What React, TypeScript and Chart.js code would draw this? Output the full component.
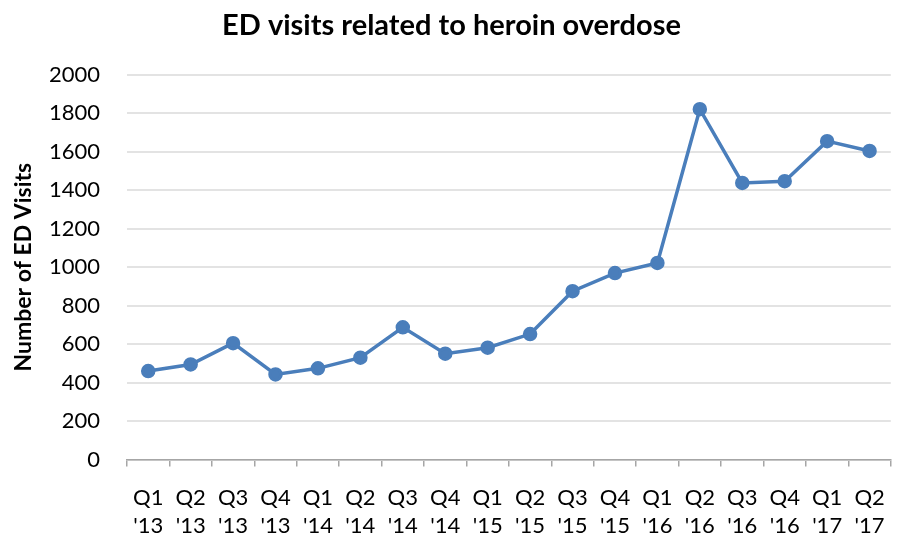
import React, { useEffect, useRef } from "react";
import { Chart, registerables } from "chart.js";

Chart.register(...registerables);

const quarters = ["Q1", "Q2", "Q3", "Q4", "Q1", "Q2", "Q3", "Q4", "Q1", "Q2", "Q3", "Q4", "Q1", "Q2", "Q3", "Q4", "Q1", "Q2"];
const years = ["'13", "'13", "'13", "'13", "'14", "'14", "'14", "'14", "'15", "'15", "'15", "'15", "'16", "'16", "'16", "'16", "'17", "'17"];
const edVisits = [460, 494, 605, 442, 474, 529, 687, 550, 581, 652, 875, 969, 1022, 1821, 1438, 1447, 1655, 1604];
const titleText = "ED visits related to heroin overdose";
const yTitle = "Number of ED Visits";

export default function App() {
  const ref = useRef<HTMLCanvasElement | null>(null);
  useEffect(() => {
    document.body.style.margin = "0";
    const labels = quarters.map((q, i) => [q, years[i]]);
    const chart = new Chart(ref.current!, {
      type: "line",
      data: {
        labels,
        datasets: [
          {
            data: edVisits,
            borderColor: "#4a7ebb",
            backgroundColor: "#4a7ebb",
            borderWidth: 3.5,
            pointRadius: 5.5,
            pointHoverRadius: 5.5,
            pointBackgroundColor: "#4a7ebb",
            pointBorderColor: "#4a7ebb",
            tension: 0,
          },
        ],
      },
      options: {
        animation: false,
        responsive: false,
        devicePixelRatio: 1,
        layout: { padding: { left: 0, right: 0, top: 0, bottom: 0 } },
        plugins: {
          legend: { display: false },
          tooltip: { enabled: false },
          title: {
            display: true,
            text: titleText,
            color: "#000",
            font: { family: "Lato", size: 29, weight: "bold", lineHeight: 1.2 },
            padding: { top: 8, bottom: 32 },
          },
        },
        scales: {
          x: {
            offset: true,
            grid: {
              display: true,
              offset: true,
              drawOnChartArea: false,
              drawTicks: true,
              tickLength: 7,
              color: "#a6a6a6",
              lineWidth: 1.5,
            },
            border: { display: true, color: "#a6a6a6", width: 1.5 },
            ticks: {
              color: "#000",
              font: { family: "Lato", size: 22, lineHeight: 1.25 },
              padding: 18,
              maxRotation: 0,
              autoSkip: false,
            },
            afterFit: (s: any) => {
              s.height = 80.5;
            },
          },
          y: {
            min: 0,
            max: 2000,
            ticks: {
              stepSize: 200,
              color: "#000",
              font: { family: "Lato", size: 22 },
              padding: 27,
              callback: (v: any) => String(v),
            },
            grid: { color: "#e3e3e3", lineWidth: 2, drawTicks: false },
            border: { display: false },
            title: {
              display: true,
              text: yTitle,
              color: "#000",
              font: { family: "Lato", size: 23, weight: "bold" },
              padding: { top: 10, bottom: 0 },
            },
            afterFit: (s: any) => {
              s.width = 127;
            },
          },
        },
      },
    });
    return () => chart.destroy();
  }, []);
  return <canvas ref={ref} width={903} height={540} style={{ display: "block" }} />;
}
